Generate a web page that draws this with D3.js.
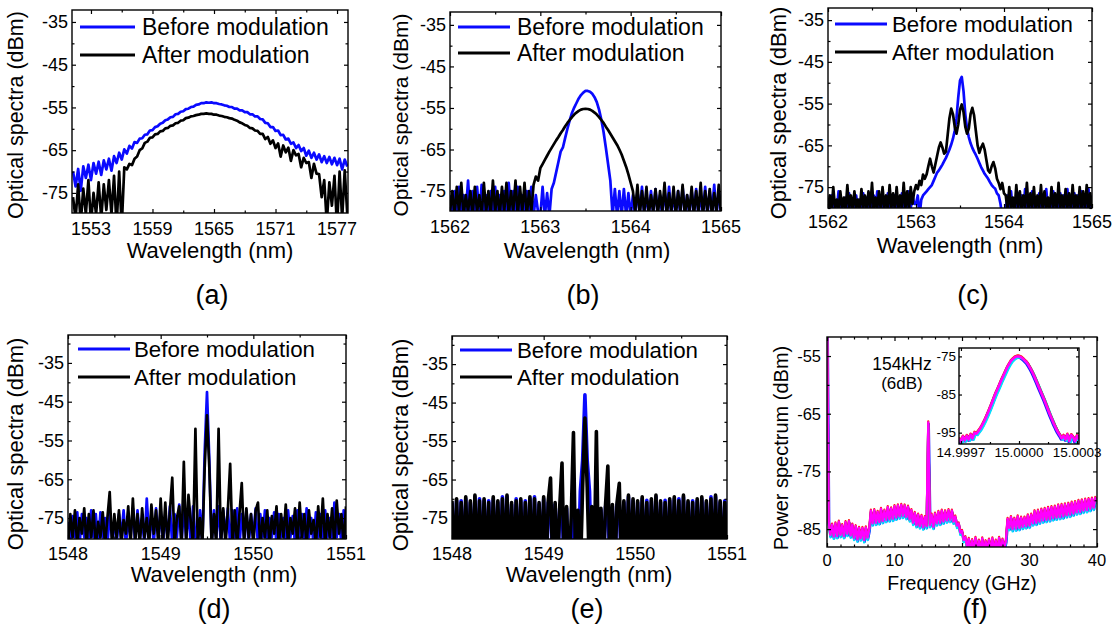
<!DOCTYPE html>
<html>
<head>
<meta charset="utf-8">
<script src="https://cdn.jsdelivr.net/npm/d3@7"></script>
<style>
  body { margin: 0; background: #fff; overflow: hidden; }
  svg { display: block; }
</style>
</head>
<body>
<svg id="fig" width="1117" height="640"></svg>
<script>
const FONT = '"Liberation Sans", Arial, Helvetica, sans-serif';
const BLUE = '#0a0aff';

const legendNames = ['Before modulation', 'After modulation'];
const wlTitle = 'Wavelength (nm)';
const specTitle = 'Optical spectra (dBm)';

// shared dBm ticks for (a)-(e)
const dbTicks = [-35, -45, -55, -65, -75];
const dbMinor = [-30, -40, -50, -60, -70, -80];

// (a) broad spectrum, 0.25 nm sampling
const aStart = 1551.25, aStep = 0.25;
const aBefore = [
  -70,-73.5,-69.4,-74.5,-68.8,-71.5,-68.4,-72,-68,-70.5,-67.7,-70.8,-67.4,-69.5,-67,-69.8,
  -66.4,-68,-65.6,-67.2,-64.8,-65.8,-64,-64.6,
  -63.1,-63.3,-62.3,-62.2,-61.4,-61.3,-60.4,-60.3,
  -59.6,-59.4,-58.8,-58.6,-58,-57.8,-57.3,-57.2,-56.6,-56.5,-56,-55.9,-55.4,-55.3,-54.9,-54.8,
  -54.4,-54.3,-54,-54,-53.8,-53.9,-53.8,-54,-54,-54.2,-54.3,-54.5,-54.6,-54.9,-54.9,-55.3,
  -55.3,-55.7,-55.7,-56.1,-56.1,-56.6,-56.6,-57.1,-57.1,-57.7,-57.8,-58.6,-58.7,-59.6,-59.6,-60.5,
  -60.4,-61.5,-61.4,-62.5,-62.3,-63.5,-63.2,-64.5,-63.8,-65.2,-64.5,-66.3,-65.1,-66.8,-65.6,-67.2,
  -66,-67.8,-66.4,-68,-66.6,-68.3,-66.8,-68.5,-67,-69.5,-67.2,-68.8
];
const aAfter = [
  -76,-81,-73,-82,-74,-80,-72,-82,-75,-80,-72.5,-81,-73,-79,-72,-80,
  -71,-83,-70,-83,-69,-69.5,-68.2,-68.5,
  -67,-66.5,-65,-64.6,-63.3,-63,-62.1,-62,
  -61.3,-61.2,-60.6,-60.5,-59.9,-59.8,-59.3,-59.2,-58.7,-58.6,-58.1,-58,-57.5,-57.4,-57.1,-57,
  -56.8,-56.7,-56.5,-56.5,-56.4,-56.5,-56.5,-56.7,-56.7,-56.9,-57,-57.2,-57.3,-57.5,-57.6,-57.9,
  -58.1,-58.5,-58.7,-59.1,-59.3,-59.8,-59.9,-60.4,-60.5,-61.2,-61.2,-62.4,-61.9,-63.5,-62.7,-64.5,
  -63.4,-66.5,-63.9,-65.5,-64.4,-67.5,-65,-66.2,-65.9,-69,-66.8,-68,-67.8,-71.5,-68.2,-70.5,
  -70.6,-76,-72,-82,-72.5,-78,-71,-83,-70,-81,-69.7,-80
];
const aXTicks = [1553, 1559, 1565, 1571, 1577];
const aXMinor = [1556, 1562, 1568, 1574];

// (b) 0.025 nm sampling
const bStart = 1562, bStep = 0.025;
const bBefore = [
  -76,-81,-75,-80,-74,-81,-76,-80,-72.5,-81,-75,-80,-74,-81,-73.5,-80,-76,-81,-75,-80,
  -74,-81,-76,-80,-75,-81,-73,-80,-75,-81,-74,-80,-76,-81,-75,-80,-74,-81,-76,-80,
  -81,-74,-81,-75.5,-81,-74.5,-73,-70.5,-68,-65.5,
  -64.5,-62.2,-60,-58,-56.2,-54.9,-53.8,-52.7,-51.9,-51.3,
  -50.9,-50.9,-51.1,-51.6,-52.4,-53.6,-55.4,-57.8,-60.8,-64.5,
  -68.5,-72.5,-81,-74.5,-81,-75,-81,-74.5,-81,-75.5,-81,
  -76,-81,-75,-80,-74,-81,-76,-80,-75,-81,-74.5,-80,-76,-81,-75,-80,-74,-81,-76,-80,
  -75,-81,-74,-80,-76,-81,-75,-80,-74.5,-81,-76,-80,-74,-81,-75,-80,-73.5,-81,-75,-80
];
const bAfter = [
  -80,-75,-81,-74,-80,-73,-81,-76,-80,-75,-81,-74,-80,-76,-81,-73,-80,-75,-81,-72.5,
  -80,-75,-81,-74,-80,-73,-81,-75,-80,-72.5,-81,-74,-80,-73,-81,-75,-80,-73.5,
  -71.5,-72.5,-69.5,-68.5,-67.5,-66.5,-65.5,-64.6,-63.7,-62.8,-62,-61.1,-60.3,-59.4,-58.6,-57.9,
  -57.2,-56.6,-56.1,-55.7,-55.4,-55.25,-55.2,-55.25,-55.4,-55.7,-56.1,-56.6,-57.2,-57.9,
  -58.6,-59.5,-60.3,-61.2,-62.1,-63,-63.9,-65,-66.2,-67.7,-69.2,-71,-73,
  -75,-80,-73.5,-81,-75,-80,-74,-81,-76,-80,-74.5,-81,-75,-80,-73,-81,-75.5,-80,-74,-81,
  -75,-80,-73.5,-81,-76,-80,-74,-81,-75,-80,-73,-81,-75,-80,-74.5,-81,-75.5,-80,-73.5,-81
];
const bXTicks = [1562, 1563, 1564, 1565];
const bXMinor = [1562.5, 1563.5, 1564.5];

// (c) 0.02 nm sampling
const cStart = 1562, cStep = 0.02;
const cBefore = [
  -78,-80.5,-77,-80,-78.5,-80.5,-76,-80,-78,-80.5,-77.5,-80,-76.5,-80.5,-78,-80,-77,-80.5,-78,-80,
  -76.5,-80.5,-77.5,-80,-78,-80.5,-77,-80,-76,-80.5,-78,-80,-77.5,-80.5,-76.5,-80,-78,-80.5,-77,-80,
  -78,-80.5,-76.5,-80,-77.5,-80.5,-76,-80,-77,-79,
  -79,-77,-82,-78,-77,-76.5,-76,-75.5,-75,-74.5,-73.5,-72.5,-71.5,-71,-70.3,-69.6,-68.8,-68,-67,-66,
  -64.8,-63.4,-61.5,-58.5,-53.5,-49.5,-48.6,-52,-57.5,-61,-63,-64.5,-65.6,-66.5,-67.3,-68.2,-69.2,-70.2,-71,-71.8,
  -72.4,-73,-73.8,-74.5,-75,-75.4,-76.5,-77,-79,-82,-82,
  -80.5,-77,-80,-76,-80.5,-78,-80,-76.5,-80.5,-77,-80,-75.5,-80.5,-77.5,-80,-76,-80.5,-78,-80,-76.5,
  -80.5,-77,-80,-75.5,-80.5,-78,-80,-76,-80.5,-77.5,-80,-76.5,-80.5,-77,-80,-75.5,-80.5,-78,-80,-76.5,
  -80.5,-77,-80,-76,-80.5,-78,-80,-75.5,-80.5,-77
];
const cAfter = [
  -80.5,-77,-80.5,-75,-80,-78,-80.5,-76,-80,-77.5,-80.5,-74.5,-80,-77,-80.5,-76,-80,-78,-80.5,-75.5,
  -80,-77,-80.5,-76,-80,-74,-80.5,-77.5,-80,-76,-80.5,-75,-80,-77,-80.5,-74.5,-80,-76.5,-80.5,-75,
  -80,-77,-80.5,-74,-80,-76,-80.5,-75,-79,-76,
  -74.5,-75.5,-73.5,-74.5,-72,-73,-72,-70,-68.2,-70,-71.5,-69.5,-67.5,-65.5,-64.3,-65.5,-67,-66.5,-62.5,-58.5,
  -56.2,-57.5,-60.5,-62.2,-60,-56.5,-55.2,-57,-60.5,-62.2,-61,-57.5,-56,-57.8,-61.5,-65,-66.8,-65.5,-64.6,-66,
  -68.5,-71,-71.5,-70,-69,-70.5,-73,-74,-75.5,-74,-76.5,
  -77,-80.5,-75,-80,-77.5,-80.5,-74.5,-80,-76,-80.5,-77,-80,-74,-80.5,-76.5,-80,-75,-80.5,-77,-80,
  -74.5,-80.5,-76,-80,-77.5,-80.5,-75,-80,-76.5,-80.5,-74,-80,-77,-80.5,-75.5,-80,-76.5,-80.5,-74.5,-80,
  -77,-80.5,-75,-80,-76,-80.5,-74.5,-80,-76.5,-80.5
];
const cXTicks = [1562, 1563, 1564, 1565];
const cXMinor = [1562.5, 1563.5, 1564.5];

// (d) 0.025 nm sampling
const dStart = 1548, dStep = 0.025;
const dBefore = [
  -76,-82,-74.5,-80,-73.5,-82,-74,-80,-75,-82,
  -73,-80,-74,-82,-73.5,-80,-75,-82,-74,-80,
  -76,-82,-74,-80,-73,-82,-75,-80,-72.5,-82,
  -73,-80,-75,-82,-70,-80,-74,-82,-72.5,-80,
  -73,-82,-74,-80,-72,-82,-74,-80,-71.5,-82,
  -72,-80,-73,-82,-72,-80,-82,-73,-82,-58,
  -42.5,
  -60,-82,-73,-80,-72,-82,-73,-80,-72.5,
  -82,-73,-80,-72.5,-82,-74,-80,-73,-82,-74,
  -80,-72.5,-82,-74,-80,-73,-82,-75,-80,-73.5,
  -82,-74,-80,-75,-82,-73,-80,-74.5,-82,-73,
  -80,-74,-82,-72.5,-80,-75,-82,-73.5,-80,-74,
  -82,-73,-80,-75,-82,-71,-80,-74,-82,-73,-80
];
const dAfter = [
  -82,-74,-80,-73,-82,-75,-79,-72.5,-82,-74,
  -80,-73,-82,-76,-80,-73.5,-82,-75,-68.3,-82,
  -74,-80,-73,-82,-75.5,-79,-72,-82,-70,-81,
  -74,-82,-72.5,-80,-75,-82,-71.5,-79,-73,-82,
  -70,-81,-71,-82,-73,
  -64.6,-82,-75,-72,-82,
  -60.5,-82,-69,-76,-82,
  -52,-82,-75,-82,-62,
  -48.5,-62,-82,-74,-82,
  -52,-82,-72.5,-82,-73,
  -61,-82,-73,-82,-74,
  -66,-82,-72.5,-80,-74,
  -82,-73,-71,-82,-75,-80,-73,-82,-74.5,-79,
  -72,-82,-74,-80,-71.5,-82,-75,-79,-72.5,-82,
  -71,-80,-74,-82,-73,-79,-75.5,-82,-72,-80,
  -70,-82,-74,-80,-72.5,-82,-70.5,-79,-74,-82,-72
];
const deXTicks = [1548, 1549, 1550, 1551];
const deXMinor = [1548.5, 1549.5, 1550.5];

// (e) 0.025 nm sampling
const eStart = 1548, eStep = 0.025;
const eBefore = [
  -71,-90,-70.5,-90,-70.5,-90,-70,-90,-71,-90,
  -69.5,-90,-70,-90,-70.5,-90,-70.5,-90,-70,-90,
  -71,-90,-69.5,-90,-69.5,-90,-71.5,-90,-70,-90,
  -70.5,-90,-70.5,-90,-70,-90,-69.5,-90,-71.5,-90,
  -70,-90,-71,
  -71,-90,-71.5,-90,-72.5,
  -71,-90,-72.5,-90,-90,
  -72,-90,-90,-68,-60,
  -43,-60,-68,-90,-90,
  -90,-90,-73,-90,-72,
  -71,-90,-72,-90,-71.5,
  -71,-90,-71,-90,-69.5,
  -90,-70.5,
  -90,-71,-90,-70,-90,-70.4,-90,-70.5,-90,-69.5,
  -90,-71,-90,-70.4,-90,-70.5,-90,-70,-90,-70,
  -90,-69.5,-90,-71,-90,-70.5,-90,-70.5,-90,-70,
  -90,-71,-90,-69.5,-90,-69.5,-90,-71,-90,-70.5,-90
];
const eAfter = [
  -70.5,-90,-70,-90,-71,-90,-69.5,-90,-70.5,-90,
  -69,-90,-70.5,-90,-70,-90,-71,-90,-69.5,-90,
  -70.5,-90,-70,-90,-69,-90,-71,-90,-70.5,-90,
  -70,-90,-71,-90,-69.5,-90,-70,-90,-71,-90,
  -69.5,-90,-70.5,
  -64.6,-90,-71,-90,-72,
  -60.7,-90,-72,-90,-75,
  -52.8,-90,-73,-90,-67,
  -49,-67,-90,-72,-90,
  -52.5,-90,-72.5,-90,-71.5,
  -61.5,-90,-71.5,-90,-71,
  -66,-90,-70.5,-90,-69,
  -90,-70,
  -90,-70.5,-90,-69.5,-90,-71,-90,-70,-90,-69,
  -90,-70.5,-90,-71,-90,-70,-90,-69.5,-90,-70.5,
  -90,-69,-90,-70.5,-90,-71,-90,-70,-90,-69.5,
  -90,-70.5,-90,-70,-90,-69,-90,-70.5,-90,-71,-90
];

// (f) RF power spectrum, 0.25 GHz sampling
const fStart = 0, fStep = 0.25;
const fPower = [
  -45,-83.8,-86,-84.2,-86.3, -84,-86.2,-83.7,-86,-84.3,
  -86.2,-83.8,-85.8,-83.6,-86.1, -84.2,-86.5,-84.5,-86.8,-84.8,
  -86.6,-84.8,-86.9,-84.7,-86.5, -85,
  -81.8,-84,-81.7,-83.9,-82, -83.8,-81.5,-83.6,-81.8,-83.4,
  -81.2,-83.3,-81.4,-83.2,-81, -83,-80.9,-82.8,-80.8,-82.7,
  -80.9,-82.9,-81.1,-83.3,-81.7, -83.9,-82.2,-84.3,-82.5,-84.5,
  -82.7,-84.7,-82.9,-84.5, -66.5,
  -84.3,-82.5,-84.6,-82.3,-84, -82,-83.9,-81.8,-83.7,-81.9,
  -83.5,-81.7,-83.4,-81.8,-83.7,
  -82.8,-84.4,-84,-85.6,-85.3,-86.9,-86.4,-88,
  -86.7,-88.8,-86.9,-88.6,-86.5,-88.9,-87,-88.7,-86.6,-88.8,
  -87.1,-88.5,-86.8,-89,-86.6,-88.7,-87,-88.6,-86.5,-88.9,
  -86.8,-88.4, -87,
  -83.2,-84.8,-82.9,-85,-83.2, -84.9,-82.8,-84.8,-83,-84.6,
  -83,-84.5,-82.6,-84.4,-82.5, -84,-81.9,-83.9,-81.8,-83.7,
  -81.6,-83.5,-81.5,-83.4,-81.3, -83.3,-81.2,-83.1,-81.1,-83,
  -80.9,-82.9,-80.8,-82.8,-80.7, -82.6,-80.6,-82.5,-80.4,-82.3,
  -80.3,-82.1,-80.1,-82,-80, -81.8,-79.9,-81.7,-79.8,-81.5,
  -79.7,-81.3,-79.6,-80.2
];
const fXTicks = [0, 10, 20, 30, 40];
const fXMinor = [2, 4, 6, 8, 12, 14, 16, 18, 22, 24, 26, 28, 32, 34, 36, 38];
const fYTicks = [-55, -65, -75, -85];
const fYMinor = [-60, -70, -80];

// (f) inset around 15 GHz
const insStart = 14.99969, insStep = 0.00001;
const insPower = [
  -96.5,-97.5,-96,-97,-95.8,-96.8,-95.5,-96.5,-95,-95.3,
  -94.6,-93.9,-93,-92,-90.9,-89.7,-88.5,-87.2,-85.9,-84.6,
  -83.5,-82.3,-81.1,-80,-78.9,-77.8,-76.9,-76.1,-75.6,-75.2,
  -75,-75,-75.2,-75.6,-76.1,-76.6,-77.4,-78.3,-79.3,-80.4,
  -81.6,-82.8,-84,-85.2,-86.4,-87.7,-89,-90.3,-91.5,-92.7,
  -93.8,-94.8,-95.6,-96.5,-95.8,-96.8,-95.5,-97.2,-95.6,-96.2,
  -97.3,-95.8,-96.8
];
const insXTicks = [14.9997, 15.0000, 15.0003];
const insXMinor = [14.99985, 15.00015];
const insYTicks = [-75, -85, -95];
const insYMinor = [-80, -90];

const svg = d3.select('#fig');
const plainInt = d => String(Math.round(d));   // hyphen-minus, as in the figure

function axisTicks(g, axisFn, scale, values, size, transform) {
  const ax = g.append('g').attr('transform', transform)
    .call(axisFn(scale).tickValues(values).tickSizeInner(-size).tickSizeOuter(0).tickFormat(''));
  ax.select('.domain').remove();
  ax.selectAll('line').attr('stroke', '#000').attr('stroke-width', 1.2);
  ax.selectAll('text').remove();
  return ax;
}

function drawPanel(p) {
  const x = d3.scaleLinear().domain(p.xDomain).range([p.left, p.right]);
  const y = d3.scaleLinear().domain(p.yDomain).range([p.bottom, p.top]);
  const g = svg.append('g');
  const inX = v => v >= Math.min(...p.xDomain) && v <= Math.max(...p.xDomain);
  const inY = v => v >= Math.min(...p.yDomain) && v <= Math.max(...p.yDomain);

  if (p.fill) {
    g.append('rect').attr('x', p.left).attr('y', p.top)
      .attr('width', p.right - p.left).attr('height', p.bottom - p.top).attr('fill', p.fill);
  }

  svg.append('clipPath').attr('id', 'clip-' + p.id).append('rect')
    .attr('x', p.left).attr('y', p.top)
    .attr('width', p.right - p.left).attr('height', p.bottom - p.top);
  const plot = g.append('g').attr('clip-path', `url(#clip-${p.id})`);

  p.series.forEach(s => {
    const line = d3.line().x((d, i) => x(s.start + s.step * i)).y(d => y(d));
    plot.append('path').datum(s.values)
      .attr('d', line)
      .attr('fill', 'none')
      .attr('stroke', s.color)
      .attr('stroke-width', s.width)
      .attr('stroke-linejoin', 'round')
      .attr('transform', s.shift ? `translate(${s.shift[0]},${s.shift[1]})` : null);
  });

  // inward ticks on all four sides
  const xMaj = p.xTicks.filter(inX), xMin = p.xMinor.filter(inX);
  const yMaj = p.yTicks.filter(inY), yMin = p.yMinor.filter(inY);
  const tl = p.tick || 4, tm = p.minor || 2.5;
  axisTicks(g, d3.axisBottom, x, xMaj, tl, `translate(0,${p.bottom})`);
  axisTicks(g, d3.axisBottom, x, xMin, tm, `translate(0,${p.bottom})`);
  axisTicks(g, d3.axisTop, x, xMaj, tl, `translate(0,${p.top})`);
  axisTicks(g, d3.axisTop, x, xMin, tm, `translate(0,${p.top})`);
  axisTicks(g, d3.axisLeft, y, yMaj, tl, `translate(${p.left},0)`);
  axisTicks(g, d3.axisLeft, y, yMin, tm, `translate(${p.left},0)`);
  axisTicks(g, d3.axisRight, y, yMaj, tl, `translate(${p.right},0)`);
  axisTicks(g, d3.axisRight, y, yMin, tm, `translate(${p.right},0)`);

  g.append('rect').attr('x', p.left).attr('y', p.top)
    .attr('width', p.right - p.left).attr('height', p.bottom - p.top)
    .attr('fill', 'none').attr('stroke', '#000').attr('stroke-width', 1.4);

  // tick labels
  const fmt = p.xFormat || plainInt;
  g.append('g').selectAll('text').data(xMaj).join('text')
    .attr('x', d => x(d)).attr('y', p.bottom + p.xLabOff)
    .attr('text-anchor', 'middle')
    .attr('font-family', FONT).attr('font-size', p.tickFont)
    .text(fmt);
  g.append('g').selectAll('text').data(yMaj).join('text')
    .attr('x', p.left - p.yLabGap).attr('y', d => y(d)).attr('dy', '0.35em')
    .attr('text-anchor', 'end')
    .attr('font-family', FONT).attr('font-size', p.tickFont)
    .text(plainInt);

  if (p.xTitle) {
    g.append('text').attr('x', p.xTitle.x).attr('y', p.xTitle.y)
      .attr('text-anchor', 'middle').attr('font-family', FONT)
      .attr('font-size', p.xTitle.size).text(p.xTitle.text);
  }
  if (p.yTitle) {
    g.append('text')
      .attr('transform', `translate(${p.yTitle.x},${p.yTitle.y}) rotate(-90)`)
      .attr('text-anchor', 'middle').attr('font-family', FONT)
      .attr('font-size', p.yTitle.size).text(p.yTitle.text);
  }
  if (p.legend) {
    const L = p.legend;
    [BLUE, '#000'].forEach((c, i) => {
      g.append('line').attr('x1', L.x1).attr('x2', L.x2)
        .attr('y1', L.ys[i]).attr('y2', L.ys[i])
        .attr('stroke', c).attr('stroke-width', 3.2);
      g.append('text').attr('x', L.tx).attr('y', L.ys[i] + 8)
        .attr('font-family', FONT).attr('font-size', L.size)
        .text(legendNames[i]);
    });
  }
  if (p.tag) {
    g.append('text').attr('x', p.tag.x).attr('y', p.tag.y)
      .attr('text-anchor', 'middle').attr('font-family', FONT)
      .attr('font-size', 27).text(p.tag.text);
  }
  return { x, y, g };
}

function spectra(start, step, before, after, w) {
  return [
    { start, step, values: before, color: BLUE, width: w || 2.7 },
    { start, step, values: after, color: '#000', width: w || 2.7 }
  ];
}

drawPanel({
  id: 'a', left: 72, right: 348, top: 10, bottom: 213,
  xDomain: [1551.15, 1578.07], yDomain: [-79.7, -32.2],
  xTicks: aXTicks, xMinor: aXMinor, yTicks: dbTicks, yMinor: dbMinor,
  series: spectra(aStart, aStep, aBefore, aAfter),
  tickFont: 18, xLabOff: 22, yLabGap: 4,
  xTitle: { text: wlTitle, x: 210, y: 258, size: 22 },
  yTitle: { text: specTitle, x: 23, y: 115, size: 21.5 },
  legend: { x1: 80, x2: 135, ys: [27, 55], tx: 142, size: 23 },
  tag: { text: '(a)', x: 212, y: 304 }
});

drawPanel({
  id: 'b', left: 450, right: 721, top: 12, bottom: 211,
  xDomain: [1562, 1565], yDomain: [-79.8, -31.9],
  xTicks: bXTicks, xMinor: bXMinor, yTicks: dbTicks, yMinor: dbMinor,
  series: spectra(bStart, bStep, bBefore, bAfter),
  tickFont: 18, xLabOff: 22, yLabGap: 4,
  xTitle: { text: wlTitle, x: 587, y: 258, size: 22 },
  yTitle: { text: specTitle, x: 408, y: 115, size: 21 },
  legend: { x1: 458, x2: 510, ys: [27, 53], tx: 517, size: 23 },
  tag: { text: '(b)', x: 583, y: 304 }
});

drawPanel({
  id: 'c', left: 828, right: 1092, top: 8, bottom: 208,
  xDomain: [1562, 1565], yDomain: [-80.0, -32.1],
  xTicks: cXTicks, xMinor: cXMinor, yTicks: dbTicks, yMinor: dbMinor,
  series: spectra(cStart, cStep, cBefore, cAfter),
  tickFont: 18, xLabOff: 20, yLabGap: 4,
  xTitle: { text: wlTitle, x: 960, y: 253, size: 22 },
  yTitle: { text: specTitle, x: 786, y: 113, size: 22 },
  legend: { x1: 835, x2: 887, ys: [24, 52], tx: 892, size: 22.3 },
  tag: { text: '(c)', x: 973, y: 304 }
});

drawPanel({
  id: 'd', left: 68, right: 346, top: 335, bottom: 539,
  xDomain: [1548, 1551], yDomain: [-80.4, -27.8],
  xTicks: deXTicks, xMinor: deXMinor, yTicks: dbTicks, yMinor: dbMinor,
  series: spectra(dStart, dStep, dBefore, dAfter),
  tickFont: 18, xLabOff: 21, yLabGap: 4,
  xTitle: { text: wlTitle, x: 214, y: 582, size: 22 },
  yTitle: { text: specTitle, x: 23, y: 444, size: 22 },
  legend: { x1: 78, x2: 130, ys: [349, 377], tx: 134, size: 22.3 },
  tag: { text: '(d)', x: 214, y: 618 }
});

drawPanel({
  id: 'e', left: 452, right: 727, top: 336, bottom: 539,
  xDomain: [1548, 1551], yDomain: [-80.45, -27.7],
  xTicks: deXTicks, xMinor: deXMinor, yTicks: dbTicks, yMinor: dbMinor,
  series: spectra(eStart, eStep, eBefore, eAfter, 3.6),
  tickFont: 18, xLabOff: 21, yLabGap: 4,
  xTitle: { text: wlTitle, x: 589, y: 582, size: 22 },
  yTitle: { text: specTitle, x: 408, y: 445, size: 22 },
  legend: { x1: 460, x2: 512, ys: [350, 377], tx: 517, size: 22.3 },
  tag: { text: '(e)', x: 587, y: 618 }
});

// colour layers of the repeated RF traces (styles only)
const layerStyles = [
  { color: '#000000', shift: [0, 1.2] },
  { color: '#1a1aff', shift: [0.6, 1.8] },
  { color: '#00e0ff', shift: [0, 2.4] },
  { color: '#ff1a1a', shift: [0, -1] },
  { color: '#ff00ff', shift: [0, 0] }
];
const insetLayers = [
  { color: '#000000', shift: [0.8, 0.8] },
  { color: '#1a1aff', shift: [-0.6, 1] },
  { color: '#00e0ff', shift: [1.2, 1.2] },
  { color: '#ff1a1a', shift: [0, -0.8] },
  { color: '#ff00ff', shift: [0, 0] }
];

const fPanel = drawPanel({
  id: 'f', left: 827, right: 1097, top: 337, bottom: 547,
  xDomain: [0, 40], yDomain: [-88.1, -51.7],
  xTicks: fXTicks, xMinor: fXMinor, yTicks: fYTicks, yMinor: fYMinor,
  series: layerStyles.map(l => ({ start: fStart, step: fStep, values: fPower, color: l.color, width: 2.2, shift: l.shift })),
  tickFont: 16.5, xLabOff: 19, yLabGap: 6,
  xTitle: { text: 'Frequency (GHz)', x: 962, y: 590, size: 19.5 },
  yTitle: { text: 'Power spectrum (dBm)', x: 788, y: 448, size: 20 },
  tag: { text: '(f)', x: 975, y: 618 }
});

fPanel.g.append('text').attr('x', 902).attr('y', 370)
  .attr('text-anchor', 'middle').attr('font-family', FONT).attr('font-size', 17.5).text('154kHz');
fPanel.g.append('text').attr('x', 902).attr('y', 389)
  .attr('text-anchor', 'middle').attr('font-family', FONT).attr('font-size', 17).text('(6dB)');

drawPanel({
  id: 'inset', left: 959, right: 1079, top: 348, bottom: 444, fill: '#fff',
  xDomain: [14.99969, 15.00031], yDomain: [-97.97, -72.8],
  xTicks: insXTicks, xMinor: insXMinor, yTicks: insYTicks, yMinor: insYMinor,
  tick: 3, minor: 2,
  series: insetLayers.map(l => ({ start: insStart, step: insStep, values: insPower, color: l.color, width: 2.5, shift: l.shift })),
  tickFont: 13.5, xLabOff: 13, yLabGap: 3,
  xFormat: d => d.toFixed(4)
});
</script>
</body>
</html>
